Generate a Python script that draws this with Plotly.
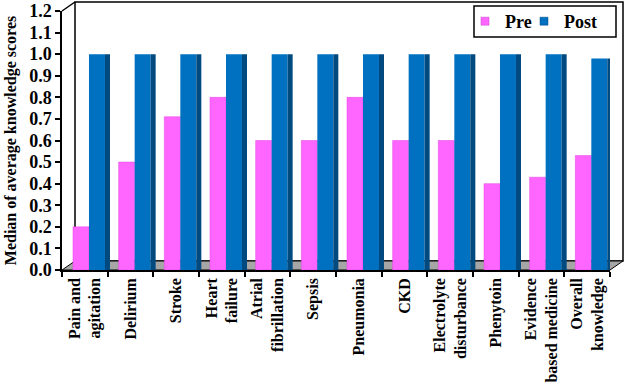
import plotly.graph_objects as go

categories = ["Pain and<br>agitation", "Delirium", "Stroke", "Heart<br>failure",
              "Atrial<br>fibrillation", "Sepsis", "Pneumonia", "CKD",
              "Electrolyte<br>disturbance", "Phenytoin", "Evidence<br>based medicine",
              "Overall<br>knowledge"]
pre_values = [0.2, 0.5, 0.71, 0.8, 0.6, 0.6, 0.8, 0.6, 0.6, 0.4, 0.43, 0.53]
post_values = [1.0, 1.0, 1.0, 1.0, 1.0, 1.0, 1.0, 1.0, 1.0, 1.0, 1.0, 0.98]
y_ticks = [0.0, 0.1, 0.2, 0.3, 0.4, 0.5, 0.6, 0.7, 0.8, 0.9, 1.0, 1.1, 1.2]

FONT = "Liberation Serif"
PINK = "#FF66FF"
BLUE = "#0070C0"
BLUE_SIDE = "#004A80"

fig = go.Figure()
fig.add_trace(go.Bar(x=categories, y=pre_values, name="Pre", showlegend=False,
                     marker=dict(color=PINK, line=dict(color="#E040E0", width=0.5)),
                     offset=-0.259, width=0.35))
fig.add_trace(go.Bar(x=categories, y=post_values, name="Post", showlegend=False,
                     marker=dict(color=BLUE, line=dict(width=0)),
                     offset=0.091, width=0.35))
fig.add_trace(go.Bar(x=categories, y=post_values, name="Post side", showlegend=False,
                     hoverinfo="skip",
                     marker=dict(color=BLUE_SIDE, line=dict(width=0)),
                     offset=0.441, width=0.11))
# legend entries with small square keys
fig.add_trace(go.Scatter(x=[categories[0]], y=[None], mode="markers", name="Pre",
                         legend="legend",
                         marker=dict(symbol="square", size=8, color=PINK,
                                     line=dict(color="#C040C0", width=0.5))))
fig.add_trace(go.Scatter(x=[categories[0]], y=[None], mode="markers", name="Post",
                         legend="legend2",
                         marker=dict(symbol="square", size=8, color=BLUE,
                                     line=dict(color=BLUE_SIDE, width=0.5))))

W, H = 626, 384
ml, mr, mt, mb = 62, 16, 11, 114
pw, ph = W - ml - mr, H - mt - mb
dx, dy = 13 / pw, 9 / ph


def px_x(p):
    return (p - ml) / pw


def px_y(p):
    return (H - mb - p) / ph


shapes = [
    # back wall
    dict(type="rect", xref="paper", yref="paper", x0=dx, x1=1 + dx,
         y0=dy, y1=1 + dy, fillcolor="white", line=dict(color="black", width=1.5), layer="below"),
    # floor
    dict(type="path", xref="paper", yref="paper",
         path=f"M 0 0 L 1 0 L {1 + dx} {dy} L {dx} {dy} Z",
         fillcolor="#A6A6A6", line=dict(color="black", width=1), layer="below"),
    # left-top diagonal
    dict(type="line", xref="paper", yref="paper", x0=0, y0=1, x1=dx, y1=1 + dy,
         line=dict(color="black", width=1.5)),
    # legend frame
    dict(type="rect", xref="paper", yref="paper", x0=px_x(474), x1=px_x(616),
         y0=px_y(37), y1=px_y(6), fillcolor="white",
         line=dict(color="black", width=1.5), layer="above"),
]

legend_common = dict(orientation="h", xanchor="left", yanchor="middle", y=px_y(21.5),
                     bgcolor="rgba(0,0,0,0)", borderwidth=0,
                     font=dict(family=FONT, size=18, weight="bold"), itemwidth=30)

fig.update_layout(
    width=W, height=H,
    margin=dict(l=ml, r=mr, t=mt, b=mb, autoexpand=False),
    paper_bgcolor="white", plot_bgcolor="rgba(0,0,0,0)",
    barmode="overlay",
    shapes=shapes,
    font=dict(family=FONT, color="black"),
    showlegend=True,
    legend=dict(x=px_x(508 - 43), **legend_common),
    legend2=dict(x=px_x(567 - 43), **legend_common),
    xaxis=dict(type="category", range=[-0.5, len(categories) - 0.5],
               showline=True, linecolor="black", linewidth=1.5,
               ticks="outside", ticklen=5, tickcolor="black", tickwidth=1.5,
               tickson="boundaries", tickangle=-90, automargin=False,
               tickfont=dict(family=FONT, size=16, weight="bold"),
               showgrid=False, zeroline=False, fixedrange=True),
    yaxis=dict(range=[0, 1.2], tickvals=y_ticks, tickformat=".1f",
               showline=True, linecolor="black", linewidth=1.5, automargin=False,
               ticks="outside", ticklen=5, tickcolor="black", tickwidth=1.5,
               tickfont=dict(family=FONT, size=18, weight="bold"),
               showgrid=False, zeroline=False, fixedrange=True,
               title=dict(text="Median of average knowledge scores",
                          font=dict(family=FONT, size=16, weight="bold"), standoff=9)),
)

fig.write_html("out.html", config={"displayModeBar": False},
               post_script="document.body.style.margin='0';")
